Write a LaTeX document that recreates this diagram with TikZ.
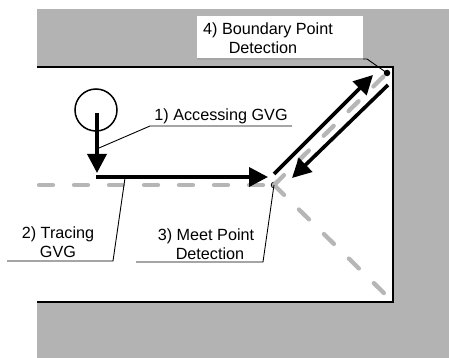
\documentclass[tikz,border=0pt]{standalone}
\usepackage{fontspec}
\setmainfont{Liberation Sans}
\usetikzlibrary{arrows.meta}
\definecolor{wallgray}{RGB}{179,179,179}
\definecolor{gvggray}{RGB}{182,182,182}

\begin{document}
\begin{tikzpicture}[x=1pt,y=-1pt,
  wall/.style={draw=black, line width=2pt},
  gvg/.style={draw=gvggray, line width=4.3pt, line cap=round, dash pattern=on 14pt off 21pt},
  move/.style={draw=black, line width=3.6pt, -{Triangle[length=19pt,width=19pt]}},
  leader/.style={draw=black, line width=0.9pt},
  lbl/.style={font=\fontsize{16.2}{19.5}\selectfont, align=center, inner sep=0pt},
  dot/.style={circle, fill=black, inner sep=0pt, minimum size=6.5pt},
  robot/.style={circle, draw=black, line width=1.5pt, minimum size=42pt, inner sep=0pt}]

  \useasboundingbox (0,0) rectangle (449,358);

  % obstacle area and free corridor
  \fill[wallgray] (37,9) rectangle (449,358);
  \fill[white] (37,67) rectangle (393,302);
  \draw[wall] (37,67) -- (393,67) -- (393,302) -- (37,302);

  % label box for the boundary point
  \fill[white] (197,16) rectangle (363,60);

  % key points
  \node[dot] (meet) at (274,185) {};
  \node[dot] (bnd) at (387,73) {};
  \coordinate (gvgL) at (39,185);
  \coordinate (corner) at (391,300);

  % generalized Voronoi graph edges
  \draw[gvg] (gvgL) -- (meet.center);
  \draw[gvg] (meet.center) -- (corner);
  \draw[gvg] (meet.center) -- (bnd.center);

  % robot
  \node[robot] (robot) at (96,110) {};

  % motion arrows
  \coordinate (downS) at (97,113);
  \coordinate (downE) at (97,173);
  \coordinate (traceS) at (96,177);
  \coordinate (traceE) at (268,177);
  \coordinate (upS) at (274,174);
  \coordinate (upE) at (373,75);
  \coordinate (backS) at (388,85);
  \coordinate (backE) at (292,178);
  \draw[move] (downS) -- (downE);
  \draw[move] (traceS) -- (traceE);
  \draw[move] (upS) -- (upE);
  \draw[move] (backS) -- (backE);

  % labels
  \node[lbl] (l1) at (221,116) {1) Accessing GVG};
  \node[lbl] (l2) at (58,242) {2) Tracing\\GVG};
  \node[lbl] (l3) at (206,244) {3) Meet Point\\\hspace*{8pt}Detection};
  \node[lbl] (l4) at (268,38) {4) Boundary Point\\Detection\hspace*{10pt}};

  % leader lines with underlines
  \coordinate (u1a) at (150,126);
  \coordinate (u1b) at (292,126);
  \coordinate (p1) at (99,148);
  \draw[leader] (u1b) -- (u1a) -- (p1);

  \coordinate (u2a) at (7,261);
  \coordinate (u2b) at (113,261);
  \coordinate (p2) at (125,178);
  \draw[leader] (u2a) -- (u2b) -- (p2);

  \coordinate (u3a) at (136,262);
  \coordinate (u3b) at (263,262);
  \draw[leader] (u3a) -- (u3b) -- (meet.center);

  \coordinate (u4a) at (197,59);
  \coordinate (u4b) at (367,59);
  \draw[leader] (u4a) -- (u4b) -- (bnd.center);
\end{tikzpicture}
\end{document}
